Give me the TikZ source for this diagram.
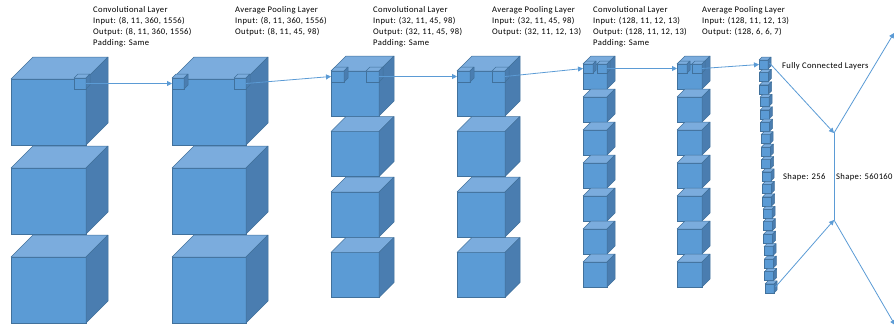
\documentclass[tikz,border=0pt]{standalone}
\usepackage{fontspec}
\setmainfont{Carlito}[LetterSpace=4]
\usetikzlibrary{arrows.meta}
\definecolor{cfront}{HTML}{5B9BD5}
\definecolor{ctop}{HTML}{7BACDD}
\definecolor{cside}{HTML}{4A7DB0}
\definecolor{cedge}{HTML}{41719C}
\definecolor{carrow}{HTML}{5B9BD5}

% one block: name, front-left x, front-top y, width, height, depth
\newcommand{\blockcube}[6]{%
  \node[cubefront, minimum width=#4pt, minimum height=#5pt] (#1) at (#2+#4/2, #3+#5/2) {};
  \filldraw[topface] (#1.north west) -- ++(#6,-#6) -- ++(#4,0) -- (#1.north east) -- cycle;
  \filldraw[sideface] (#1.north east) -- ++(#6,-#6) -- ++(0,#5) -- (#1.south east) -- cycle;
  \coordinate (#1-r) at ([shift={(#6/2,-#6/2)}]#1.east);
}

\begin{document}
\begin{tikzpicture}[
  x=1pt, y=-1pt,
  cubefront/.style={draw=cedge, fill=cfront, line width=0.5pt, inner sep=0pt, outer sep=0pt},
  topface/.style={draw=cedge, fill=ctop, line width=0.5pt, line join=round},
  sideface/.style={draw=cedge, fill=cside, line width=0.5pt, line join=round},
  arr/.style={-{Triangle[length=5pt,width=5pt]}, carrow, line width=0.8pt},
  info/.style={anchor=north west, align=left, inner sep=0pt, font=\fontsize{8.6}{11}\selectfont},
]
  \useasboundingbox (0,0) rectangle (894,324);
  \clip (0,0) rectangle (894,324);

  % Feature maps
  \foreach \i in {0,1,2} {\blockcube{conv1-\i}{11}{79+89*\i}{75}{66}{22}}
  \foreach \i in {0,1,2} {\blockcube{pool1-\i}{172}{79+89*\i}{74}{66}{22}}
  \foreach \i in {0,...,3} {\blockcube{conv2-\i}{331}{71+60.5*\i}{48}{45}{15}}
  \foreach \i in {0,...,3} {\blockcube{pool2-\i}{457}{71+60.5*\i}{48}{45}{15}}
  \foreach \i in {0,...,6} {\blockcube{conv3-\i}{583}{64+33*\i}{24}{25}{8}}
  \foreach \i in {0,...,6} {\blockcube{pool3-\i}{677}{64+33*\i}{25}{25}{8}}
  \foreach \i in {0,...,18} {\blockcube{dense-\i}{759+\i/3}{60+12.44*\i}{9}{9}{3}}

  % Kernels
  \blockcube{conv1-k}{74}{78}{12}{11}{4}
  \blockcube{pool1-in}{172}{78}{12}{11}{4}
  \blockcube{pool1-out}{234}{78}{12}{11}{4}
  \blockcube{conv2-in}{331}{71}{13}{11}{4}
  \blockcube{conv2-out}{366}{71}{13}{11}{4}
  \blockcube{pool2-in}{457}{71}{13}{11}{4}
  \blockcube{pool2-out}{492}{71}{13}{11}{4}
  \blockcube{conv3-in}{583}{64}{10}{9}{3}
  \blockcube{conv3-out}{597}{64}{10}{9}{3}
  \blockcube{pool3-in}{677}{64}{10}{9}{3}
  \blockcube{pool3-out}{692}{64}{10}{9}{3}

  \draw[arr] (conv1-k.east) -- (pool1-in.west);
  \draw[arr] (pool1-out.east) -- (conv2-in.west);
  \draw[arr] (conv2-out.east) -- (pool2-in.west);
  \draw[arr] (pool2-out.east) -- (conv3-in.west);
  \draw[arr] (conv3-out.east) -- (pool3-in.west);
  \draw[arr] (pool3-out.east) -- (dense-0.west);

  % Layer captions
  \node[info] (conv1-txt) at (93,6.5) {Convolutional Layer\\Input: (8, 11, 360, 1556)\\Output: (8, 11, 360, 1556)\\Padding: Same};
  \node[info] (pool1-txt) at (235,6.5) {Average Pooling Layer\\Input: (8, 11, 360, 1556)\\Output: (8, 11, 45, 98)};
  \node[info] (conv2-txt) at (373,6.5) {Convolutional Layer\\Input: (32, 11, 45, 98)\\Output: (32, 11, 45, 98)\\Padding: Same};
  \node[info] (pool2-txt) at (492,6.5) {Average Pooling Layer\\Input: (32, 11, 45, 98)\\Output: (32, 11, 12, 13)};
  \node[info] (conv3-txt) at (593,6.5) {Convolutional Layer\\Input: (128, 11, 12, 13)\\Output: (128, 11, 12, 13)\\Padding: Same};
  \node[info] (pool3-txt) at (702,6.5) {Average Pooling Layer\\Input: (128, 11, 12, 13)\\Output: (128, 6, 6, 7)};

  % Fully connected part
  \node[info, anchor=west] (fc-txt) at (782,66) {Fully Connected Layers};
  \node[info, anchor=west] (fc-in) at (783,177) {Shape: 256};
  \node[info, anchor=west] (fc-out) at (836,177) {Shape: 560160};

  \coordinate (split) at (834,133);
  \coordinate (merge) at (834,220);
  \coordinate (out1) at (894,33);
  \coordinate (out2) at (895,325);
  \draw[arr] (dense-0-r) -- (split);
  \draw[arr] (dense-18-r) -- (merge);
  \draw[carrow, line width=0.8pt] (split) -- (merge);
  \draw[arr] (split) -- (out1);
  \draw[arr] (merge) -- (out2);
\end{tikzpicture}
\end{document}
